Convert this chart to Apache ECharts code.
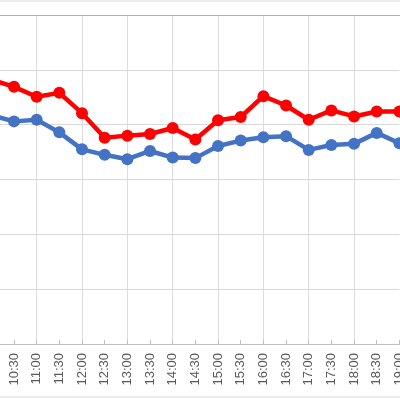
<!DOCTYPE html>
<html>
<head>
<meta charset="utf-8">
<script src="https://cdn.jsdelivr.net/npm/echarts@6/dist/echarts.min.js"></script>
<style>
html,body{margin:0;padding:0;background:#fff;}
#chart{width:400px;height:400px;}
</style>
</head>
<body>
<div id="chart"></div>
<script>
const categories = ['10:00','10:30','11:00','11:30','12:00','12:30','13:00','13:30','14:00','14:30','15:00','15:30','16:00','16:30','17:00','17:30','18:00','18:30','19:00'];
const redSeries  = [48.2, 46.9, 45.1, 45.8, 42.1, 37.6, 38.0, 38.3, 39.4, 37.3, 40.8, 41.4, 45.2, 43.5, 40.9, 42.6, 41.5, 42.4, 42.4];
const blueSeries = [41.7, 40.6, 40.9, 38.6, 35.5, 34.5, 33.7, 35.2, 34.0, 33.9, 36.1, 37.1, 37.7, 37.9, 35.4, 36.3, 36.5, 38.5, 36.6];
const yMin = 0, yMax = 60, yInterval = 10;

const chart = echarts.init(document.getElementById('chart'), null, {renderer: 'canvas'});
chart.setOption({
  animation: false,
  backgroundColor: '#ffffff',
  graphic: [
    {type: 'rect', silent: true, z: 0, shape: {x: -5, y: 1, width: 410, height: 396},
     style: {fill: 'none', stroke: '#d9d9d9', lineWidth: 1}},
    {type: 'line', silent: true, z: 1, shape: {x1: 0, y1: 15.5, x2: 400, y2: 15.5},
     style: {stroke: '#b0b0b0', lineWidth: 1}}
  ],
  grid: {left: -8.67, right: 0.6, top: 15, bottom: 56, containLabel: false, outerBoundsMode: 'none'},
  xAxis: {
    type: 'category',
    data: categories,
    boundaryGap: false,
    axisLine: {show: true, lineStyle: {color: '#bfbfbf', width: 1}},
    axisTick: {show: true, inside: true, length: 4, interval: 0, lineStyle: {color: '#bfbfbf'}},
    axisLabel: {interval: 0, rotate: 90, margin: 9, color: '#595959', fontSize: 13, fontFamily: 'Liberation Sans'},
    splitLine: {show: true, interval: function (idx) { return idx % 2 === 0 && idx < 18; }, lineStyle: {color: '#dcdcdc', width: 1}}
  },
  yAxis: {
    type: 'value',
    min: yMin, max: yMax, interval: yInterval,
    axisLine: {show: false},
    axisTick: {show: false},
    axisLabel: {show: false},
    splitLine: {show: true, lineStyle: {color: '#d9d9d9', width: 1}}
  },
  series: [
    {type: 'line', data: blueSeries, symbol: 'circle', symbolSize: 12,
     lineStyle: {color: '#4472c4', width: 4.5}, itemStyle: {color: '#4472c4'}},
    {type: 'line', data: redSeries, symbol: 'circle', symbolSize: 12,
     lineStyle: {color: '#ff0000', width: 4.5}, itemStyle: {color: '#ff0000'}}
  ]
});
</script>
</body>
</html>
